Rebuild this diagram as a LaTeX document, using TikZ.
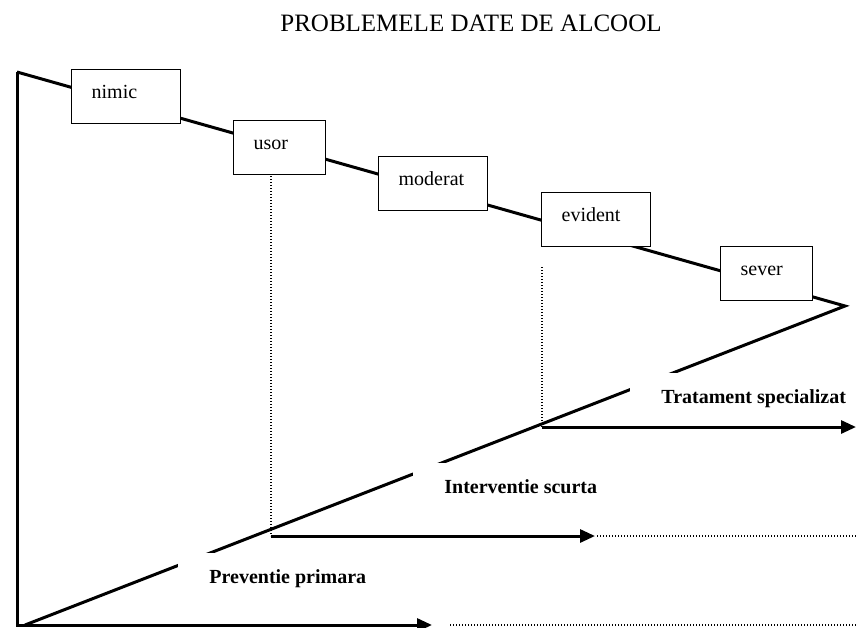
\documentclass[tikz,border=0pt]{standalone}
\usepackage{fontspec}
\setmainfont{Liberation Serif}
\usetikzlibrary{arrows.meta}

\begin{document}
\begin{tikzpicture}[
  x=0.5pt, y=-0.5pt,
  heavy/.style = {line width=1.5pt, line join=miter},
  flow/.style  = {line width=1.5pt, -{Triangle[length=7.5pt,width=6.5pt]}},
  guide/.style = {line width=0.6pt, dash pattern=on 0.6pt off 0.9pt},
  level/.style = {draw, line width=0.65pt, fill=white, anchor=north west,
                  align=left, inner xsep=10pt, minimum height=27pt,
                  text height=7pt, text depth=5.5pt, text width=#1,
                  font=\fontsize{10}{12}\selectfont},
  stage/.style = {fill=white, anchor=north west, inner xsep=15.5pt,
                  inner ysep=8pt, text height=7pt, text depth=2pt,
                  font=\fontsize{10}{12}\selectfont\bfseries},
  heading/.style = {font=\fontsize{12.5}{15}\selectfont},
]
  \useasboundingbox (0,0) rectangle (856,627);

  \node[heading] (head) at (471,23) {PROBLEMELE DATE DE ALCOOL};

  \coordinate (top)    at (17,72);
  \coordinate (corner) at (17,625);
  \coordinate (tip)    at (845,306);
  \coordinate (foot)   at (25,625);

  % severity line and the wedge back to the origin
  \draw[heavy] (top) -- (tip) -- (foot);

  \node[level=34.5pt] (nimic)   at (71,69)   {nimic};
  \node[level=26pt]   (usor)    at (233,120) {usor};
  \node[level=34.5pt] (moderat) at (378,156) {moderat};
  \node[level=34.5pt] (evident) at (541,192) {evident};
  \node[level=26pt]   (sever)   at (720,246) {sever};

  \node[stage] (spec)  at (630,373) {Tratament specializat};
  \node[stage] (brief) at (413,463) {Interventie scurta};
  \node[stage] (prim)  at (178,553) {Preventie primara};

  % where each kind of care starts
  \coordinate (usorDrop)    at (271,176);
  \coordinate (briefStart)  at (271,536);
  \coordinate (briefEnd)    at (595,536);
  \coordinate (briefTail)   at (856,536);
  \coordinate (evidentDrop) at (542,267);
  \coordinate (specStart)   at (542,427);
  \coordinate (specEnd)     at (856,427);
  \coordinate (primEnd)     at (432,625);
  \coordinate (primDots)    at (450,625);
  \coordinate (primTail)    at (856,625);

  \draw[flow] (top) -- (corner) -- (primEnd);
  \draw[guide] (primDots) -- (primTail);

  \draw[guide] (usorDrop) -- (briefStart);
  \draw[flow] (briefStart) -- (briefEnd);
  \draw[guide] ([xshift=1pt]briefEnd) -- (briefTail);

  \draw[guide] (evidentDrop) -- (specStart);
  \draw[flow] (specStart) -- (specEnd);
\end{tikzpicture}
\end{document}
